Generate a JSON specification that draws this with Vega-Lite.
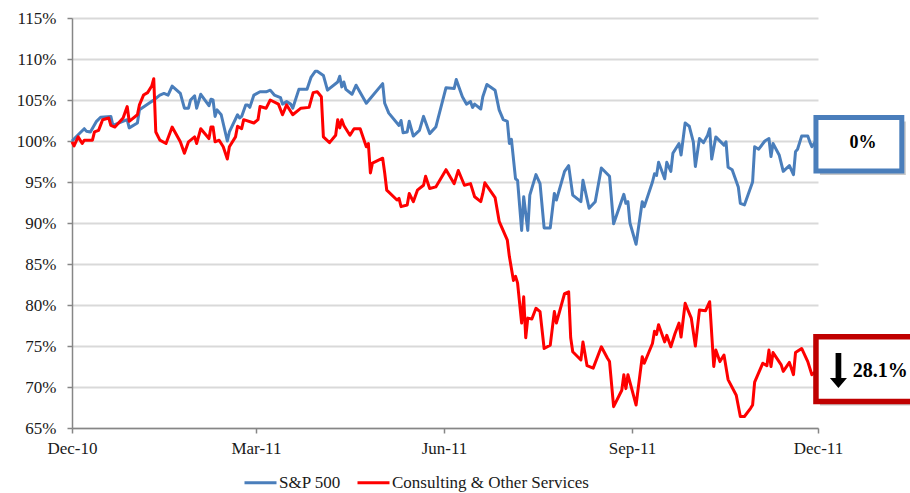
{
  "$schema": "https://vega.github.io/schema/vega-lite/v6.json",
  "width": 746,
  "height": 410,
  "autosize": {"type": "none"},
  "padding": {"left": 72, "top": 18, "right": 92, "bottom": 65},
  "background": "white",
  "config": {"view": {"stroke": null}, "font": "Liberation Serif"},
  "data": {
    "format": {"parse": {"date": "date:'%Y-%m-%d'"}},
    "values": [
      {"date":"2010-12-01","series":"S&P 500","value":100.0},
      {"date":"2010-12-05","series":"S&P 500","value":101.0},
      {"date":"2010-12-07","series":"S&P 500","value":101.5},
      {"date":"2010-12-08","series":"S&P 500","value":101.2},
      {"date":"2010-12-10","series":"S&P 500","value":101.1},
      {"date":"2010-12-13","series":"S&P 500","value":102.4},
      {"date":"2010-12-15","series":"S&P 500","value":102.9},
      {"date":"2010-12-20","series":"S&P 500","value":103.0},
      {"date":"2010-12-21","series":"S&P 500","value":101.9},
      {"date":"2010-12-28","series":"S&P 500","value":102.6},
      {"date":"2010-12-29","series":"S&P 500","value":101.6},
      {"date":"2011-01-02","series":"S&P 500","value":102.2},
      {"date":"2011-01-03","series":"S&P 500","value":103.8},
      {"date":"2011-01-10","series":"S&P 500","value":105.0},
      {"date":"2011-01-13","series":"S&P 500","value":105.6},
      {"date":"2011-01-15","series":"S&P 500","value":105.8},
      {"date":"2011-01-17","series":"S&P 500","value":105.6},
      {"date":"2011-01-19","series":"S&P 500","value":106.7},
      {"date":"2011-01-23","series":"S&P 500","value":105.8},
      {"date":"2011-01-25","series":"S&P 500","value":104.0},
      {"date":"2011-01-27","series":"S&P 500","value":104.0},
      {"date":"2011-01-28","series":"S&P 500","value":105.0},
      {"date":"2011-01-30","series":"S&P 500","value":105.5},
      {"date":"2011-01-31","series":"S&P 500","value":104.0},
      {"date":"2011-02-02","series":"S&P 500","value":105.7},
      {"date":"2011-02-06","series":"S&P 500","value":104.3},
      {"date":"2011-02-07","series":"S&P 500","value":105.1},
      {"date":"2011-02-08","series":"S&P 500","value":105.0},
      {"date":"2011-02-09","series":"S&P 500","value":103.0},
      {"date":"2011-02-10","series":"S&P 500","value":103.8},
      {"date":"2011-02-12","series":"S&P 500","value":103.2},
      {"date":"2011-02-15","series":"S&P 500","value":100.0},
      {"date":"2011-02-16","series":"S&P 500","value":101.1},
      {"date":"2011-02-20","series":"S&P 500","value":103.2},
      {"date":"2011-02-21","series":"S&P 500","value":102.8},
      {"date":"2011-02-22","series":"S&P 500","value":103.0},
      {"date":"2011-02-24","series":"S&P 500","value":104.4},
      {"date":"2011-02-25","series":"S&P 500","value":104.4},
      {"date":"2011-02-26","series":"S&P 500","value":104.1},
      {"date":"2011-02-28","series":"S&P 500","value":105.6},
      {"date":"2011-03-03","series":"S&P 500","value":106.0},
      {"date":"2011-03-06","series":"S&P 500","value":106.0},
      {"date":"2011-03-08","series":"S&P 500","value":106.2},
      {"date":"2011-03-10","series":"S&P 500","value":105.6},
      {"date":"2011-03-13","series":"S&P 500","value":105.3},
      {"date":"2011-03-14","series":"S&P 500","value":104.5},
      {"date":"2011-03-16","series":"S&P 500","value":104.8},
      {"date":"2011-03-18","series":"S&P 500","value":104.5},
      {"date":"2011-03-19","series":"S&P 500","value":104.0},
      {"date":"2011-03-22","series":"S&P 500","value":106.3},
      {"date":"2011-03-26","series":"S&P 500","value":106.3},
      {"date":"2011-03-28","series":"S&P 500","value":107.8},
      {"date":"2011-03-30","series":"S&P 500","value":108.5},
      {"date":"2011-03-31","series":"S&P 500","value":108.5},
      {"date":"2011-04-03","series":"S&P 500","value":108.0},
      {"date":"2011-04-05","series":"S&P 500","value":106.2},
      {"date":"2011-04-10","series":"S&P 500","value":107.2},
      {"date":"2011-04-11","series":"S&P 500","value":107.9},
      {"date":"2011-04-12","series":"S&P 500","value":106.6},
      {"date":"2011-04-13","series":"S&P 500","value":107.2},
      {"date":"2011-04-14","series":"S&P 500","value":106.3},
      {"date":"2011-04-17","series":"S&P 500","value":105.7},
      {"date":"2011-04-19","series":"S&P 500","value":106.8},
      {"date":"2011-04-24","series":"S&P 500","value":104.6},
      {"date":"2011-05-02","series":"S&P 500","value":107.0},
      {"date":"2011-05-03","series":"S&P 500","value":104.6},
      {"date":"2011-05-05","series":"S&P 500","value":103.4},
      {"date":"2011-05-10","series":"S&P 500","value":101.9},
      {"date":"2011-05-11","series":"S&P 500","value":102.5},
      {"date":"2011-05-12","series":"S&P 500","value":101.0},
      {"date":"2011-05-14","series":"S&P 500","value":101.1},
      {"date":"2011-05-15","series":"S&P 500","value":102.4},
      {"date":"2011-05-17","series":"S&P 500","value":100.6},
      {"date":"2011-05-20","series":"S&P 500","value":101.3},
      {"date":"2011-05-22","series":"S&P 500","value":103.0},
      {"date":"2011-05-25","series":"S&P 500","value":100.9},
      {"date":"2011-05-28","series":"S&P 500","value":101.7},
      {"date":"2011-06-02","series":"S&P 500","value":106.5},
      {"date":"2011-06-06","series":"S&P 500","value":106.4},
      {"date":"2011-06-07","series":"S&P 500","value":107.5},
      {"date":"2011-06-10","series":"S&P 500","value":105.4},
      {"date":"2011-06-12","series":"S&P 500","value":104.5},
      {"date":"2011-06-14","series":"S&P 500","value":104.8},
      {"date":"2011-06-15","series":"S&P 500","value":104.1},
      {"date":"2011-06-16","series":"S&P 500","value":104.5},
      {"date":"2011-06-19","series":"S&P 500","value":103.9},
      {"date":"2011-06-20","series":"S&P 500","value":105.4},
      {"date":"2011-06-22","series":"S&P 500","value":106.9},
      {"date":"2011-06-26","series":"S&P 500","value":106.2},
      {"date":"2011-06-28","series":"S&P 500","value":103.8},
      {"date":"2011-06-30","series":"S&P 500","value":102.6},
      {"date":"2011-07-02","series":"S&P 500","value":102.4},
      {"date":"2011-07-03","series":"S&P 500","value":99.7},
      {"date":"2011-07-04","series":"S&P 500","value":100.2},
      {"date":"2011-07-06","series":"S&P 500","value":95.4},
      {"date":"2011-07-07","series":"S&P 500","value":95.2},
      {"date":"2011-07-09","series":"S&P 500","value":89.1},
      {"date":"2011-07-10","series":"S&P 500","value":93.2},
      {"date":"2011-07-12","series":"S&P 500","value":89.1},
      {"date":"2011-07-13","series":"S&P 500","value":93.4},
      {"date":"2011-07-16","series":"S&P 500","value":95.9},
      {"date":"2011-07-18","series":"S&P 500","value":94.8},
      {"date":"2011-07-20","series":"S&P 500","value":89.4},
      {"date":"2011-07-23","series":"S&P 500","value":89.4},
      {"date":"2011-07-25","series":"S&P 500","value":93.6},
      {"date":"2011-07-26","series":"S&P 500","value":92.8},
      {"date":"2011-07-30","series":"S&P 500","value":96.3},
      {"date":"2011-08-01","series":"S&P 500","value":97.0},
      {"date":"2011-08-03","series":"S&P 500","value":93.4},
      {"date":"2011-08-07","series":"S&P 500","value":92.6},
      {"date":"2011-08-08","series":"S&P 500","value":95.2},
      {"date":"2011-08-11","series":"S&P 500","value":91.8},
      {"date":"2011-08-14","series":"S&P 500","value":92.6},
      {"date":"2011-08-17","series":"S&P 500","value":96.7},
      {"date":"2011-08-21","series":"S&P 500","value":95.7},
      {"date":"2011-08-23","series":"S&P 500","value":89.9},
      {"date":"2011-08-28","series":"S&P 500","value":93.5},
      {"date":"2011-08-29","series":"S&P 500","value":92.4},
      {"date":"2011-08-30","series":"S&P 500","value":92.6},
      {"date":"2011-08-31","series":"S&P 500","value":90.0},
      {"date":"2011-09-03","series":"S&P 500","value":87.4},
      {"date":"2011-09-06","series":"S&P 500","value":92.6},
      {"date":"2011-09-07","series":"S&P 500","value":92.0},
      {"date":"2011-09-11","series":"S&P 500","value":95.0},
      {"date":"2011-09-12","series":"S&P 500","value":96.0},
      {"date":"2011-09-13","series":"S&P 500","value":95.8},
      {"date":"2011-09-14","series":"S&P 500","value":97.4},
      {"date":"2011-09-17","series":"S&P 500","value":95.4},
      {"date":"2011-09-18","series":"S&P 500","value":97.4},
      {"date":"2011-09-20","series":"S&P 500","value":96.3},
      {"date":"2011-09-21","series":"S&P 500","value":98.5},
      {"date":"2011-09-24","series":"S&P 500","value":99.7},
      {"date":"2011-09-25","series":"S&P 500","value":98.3},
      {"date":"2011-09-27","series":"S&P 500","value":102.2},
      {"date":"2011-09-29","series":"S&P 500","value":101.8},
      {"date":"2011-10-01","series":"S&P 500","value":99.9},
      {"date":"2011-10-02","series":"S&P 500","value":96.9},
      {"date":"2011-10-04","series":"S&P 500","value":100.3},
      {"date":"2011-10-06","series":"S&P 500","value":99.8},
      {"date":"2011-10-08","series":"S&P 500","value":100.7},
      {"date":"2011-10-09","series":"S&P 500","value":101.5},
      {"date":"2011-10-10","series":"S&P 500","value":97.8},
      {"date":"2011-10-12","series":"S&P 500","value":100.5},
      {"date":"2011-10-16","series":"S&P 500","value":99.5},
      {"date":"2011-10-17","series":"S&P 500","value":99.9},
      {"date":"2011-10-18","series":"S&P 500","value":96.8},
      {"date":"2011-10-20","series":"S&P 500","value":96.5},
      {"date":"2011-10-23","series":"S&P 500","value":94.4},
      {"date":"2011-10-24","series":"S&P 500","value":92.4},
      {"date":"2011-10-26","series":"S&P 500","value":92.2},
      {"date":"2011-10-30","series":"S&P 500","value":95.0},
      {"date":"2011-10-31","series":"S&P 500","value":99.3},
      {"date":"2011-11-02","series":"S&P 500","value":99.0},
      {"date":"2011-11-05","series":"S&P 500","value":100.0},
      {"date":"2011-11-07","series":"S&P 500","value":100.3},
      {"date":"2011-11-08","series":"S&P 500","value":98.1},
      {"date":"2011-11-09","series":"S&P 500","value":99.7},
      {"date":"2011-11-12","series":"S&P 500","value":98.3},
      {"date":"2011-11-14","series":"S&P 500","value":96.3},
      {"date":"2011-11-17","series":"S&P 500","value":97.0},
      {"date":"2011-11-19","series":"S&P 500","value":95.9},
      {"date":"2011-11-20","series":"S&P 500","value":98.7},
      {"date":"2011-11-21","series":"S&P 500","value":99.0},
      {"date":"2011-11-23","series":"S&P 500","value":100.6},
      {"date":"2011-11-26","series":"S&P 500","value":100.6},
      {"date":"2011-11-27","series":"S&P 500","value":99.9},
      {"date":"2011-11-28","series":"S&P 500","value":99.3},
      {"date":"2011-11-30","series":"S&P 500","value":100.0},
      {"date":"2010-12-01","series":"Consulting & Other Services","value":99.9},
      {"date":"2010-12-02","series":"Consulting & Other Services","value":99.4},
      {"date":"2010-12-04","series":"Consulting & Other Services","value":100.5},
      {"date":"2010-12-06","series":"Consulting & Other Services","value":99.7},
      {"date":"2010-12-07","series":"Consulting & Other Services","value":100.1},
      {"date":"2010-12-11","series":"Consulting & Other Services","value":100.1},
      {"date":"2010-12-12","series":"Consulting & Other Services","value":101.1},
      {"date":"2010-12-14","series":"Consulting & Other Services","value":101.3},
      {"date":"2010-12-16","series":"Consulting & Other Services","value":102.6},
      {"date":"2010-12-19","series":"Consulting & Other Services","value":102.8},
      {"date":"2010-12-20","series":"Consulting & Other Services","value":101.9},
      {"date":"2010-12-22","series":"Consulting & Other Services","value":101.7},
      {"date":"2010-12-26","series":"Consulting & Other Services","value":102.8},
      {"date":"2010-12-28","series":"Consulting & Other Services","value":104.2},
      {"date":"2010-12-29","series":"Consulting & Other Services","value":102.4},
      {"date":"2011-01-02","series":"Consulting & Other Services","value":103.2},
      {"date":"2011-01-03","series":"Consulting & Other Services","value":104.4},
      {"date":"2011-01-05","series":"Consulting & Other Services","value":105.6},
      {"date":"2011-01-07","series":"Consulting & Other Services","value":105.9},
      {"date":"2011-01-09","series":"Consulting & Other Services","value":106.7},
      {"date":"2011-01-10","series":"Consulting & Other Services","value":107.6},
      {"date":"2011-01-11","series":"Consulting & Other Services","value":101.1},
      {"date":"2011-01-13","series":"Consulting & Other Services","value":100.1},
      {"date":"2011-01-16","series":"Consulting & Other Services","value":99.7},
      {"date":"2011-01-19","series":"Consulting & Other Services","value":101.7},
      {"date":"2011-01-23","series":"Consulting & Other Services","value":99.9},
      {"date":"2011-01-25","series":"Consulting & Other Services","value":98.5},
      {"date":"2011-01-27","series":"Consulting & Other Services","value":99.9},
      {"date":"2011-01-30","series":"Consulting & Other Services","value":100.5},
      {"date":"2011-01-31","series":"Consulting & Other Services","value":99.7},
      {"date":"2011-02-02","series":"Consulting & Other Services","value":101.5},
      {"date":"2011-02-06","series":"Consulting & Other Services","value":100.3},
      {"date":"2011-02-07","series":"Consulting & Other Services","value":101.7},
      {"date":"2011-02-08","series":"Consulting & Other Services","value":101.7},
      {"date":"2011-02-09","series":"Consulting & Other Services","value":99.9},
      {"date":"2011-02-11","series":"Consulting & Other Services","value":100.1},
      {"date":"2011-02-13","series":"Consulting & Other Services","value":99.3},
      {"date":"2011-02-15","series":"Consulting & Other Services","value":97.8},
      {"date":"2011-02-16","series":"Consulting & Other Services","value":99.3},
      {"date":"2011-02-19","series":"Consulting & Other Services","value":100.5},
      {"date":"2011-02-20","series":"Consulting & Other Services","value":101.8},
      {"date":"2011-02-22","series":"Consulting & Other Services","value":101.5},
      {"date":"2011-02-23","series":"Consulting & Other Services","value":102.6},
      {"date":"2011-02-28","series":"Consulting & Other Services","value":102.2},
      {"date":"2011-03-02","series":"Consulting & Other Services","value":102.6},
      {"date":"2011-03-03","series":"Consulting & Other Services","value":104.2},
      {"date":"2011-03-06","series":"Consulting & Other Services","value":104.0},
      {"date":"2011-03-08","series":"Consulting & Other Services","value":105.0},
      {"date":"2011-03-12","series":"Consulting & Other Services","value":104.5},
      {"date":"2011-03-14","series":"Consulting & Other Services","value":103.2},
      {"date":"2011-03-16","series":"Consulting & Other Services","value":104.4},
      {"date":"2011-03-19","series":"Consulting & Other Services","value":103.2},
      {"date":"2011-03-23","series":"Consulting & Other Services","value":104.0},
      {"date":"2011-03-27","series":"Consulting & Other Services","value":104.1},
      {"date":"2011-03-29","series":"Consulting & Other Services","value":105.9},
      {"date":"2011-03-31","series":"Consulting & Other Services","value":106.0},
      {"date":"2011-04-02","series":"Consulting & Other Services","value":105.4},
      {"date":"2011-04-03","series":"Consulting & Other Services","value":100.5},
      {"date":"2011-04-06","series":"Consulting & Other Services","value":99.8},
      {"date":"2011-04-09","series":"Consulting & Other Services","value":100.7},
      {"date":"2011-04-10","series":"Consulting & Other Services","value":102.6},
      {"date":"2011-04-11","series":"Consulting & Other Services","value":101.6},
      {"date":"2011-04-12","series":"Consulting & Other Services","value":102.6},
      {"date":"2011-04-13","series":"Consulting & Other Services","value":101.9},
      {"date":"2011-04-16","series":"Consulting & Other Services","value":100.7},
      {"date":"2011-04-18","series":"Consulting & Other Services","value":101.5},
      {"date":"2011-04-21","series":"Consulting & Other Services","value":101.5},
      {"date":"2011-04-24","series":"Consulting & Other Services","value":99.3},
      {"date":"2011-04-25","series":"Consulting & Other Services","value":99.7},
      {"date":"2011-04-26","series":"Consulting & Other Services","value":96.1},
      {"date":"2011-04-27","series":"Consulting & Other Services","value":97.3},
      {"date":"2011-05-02","series":"Consulting & Other Services","value":97.9},
      {"date":"2011-05-03","series":"Consulting & Other Services","value":96.1},
      {"date":"2011-05-04","series":"Consulting & Other Services","value":94.0},
      {"date":"2011-05-09","series":"Consulting & Other Services","value":92.8},
      {"date":"2011-05-10","series":"Consulting & Other Services","value":93.0},
      {"date":"2011-05-11","series":"Consulting & Other Services","value":92.0},
      {"date":"2011-05-14","series":"Consulting & Other Services","value":92.2},
      {"date":"2011-05-15","series":"Consulting & Other Services","value":93.6},
      {"date":"2011-05-17","series":"Consulting & Other Services","value":92.6},
      {"date":"2011-05-19","series":"Consulting & Other Services","value":94.0},
      {"date":"2011-05-22","series":"Consulting & Other Services","value":94.6},
      {"date":"2011-05-23","series":"Consulting & Other Services","value":95.7},
      {"date":"2011-05-25","series":"Consulting & Other Services","value":94.2},
      {"date":"2011-05-28","series":"Consulting & Other Services","value":94.4},
      {"date":"2011-06-02","series":"Consulting & Other Services","value":96.5},
      {"date":"2011-06-06","series":"Consulting & Other Services","value":94.8},
      {"date":"2011-06-08","series":"Consulting & Other Services","value":96.4},
      {"date":"2011-06-11","series":"Consulting & Other Services","value":94.6},
      {"date":"2011-06-14","series":"Consulting & Other Services","value":94.8},
      {"date":"2011-06-16","series":"Consulting & Other Services","value":93.2},
      {"date":"2011-06-19","series":"Consulting & Other Services","value":92.6},
      {"date":"2011-06-20","series":"Consulting & Other Services","value":93.6},
      {"date":"2011-06-21","series":"Consulting & Other Services","value":94.9},
      {"date":"2011-06-26","series":"Consulting & Other Services","value":93.1},
      {"date":"2011-06-28","series":"Consulting & Other Services","value":90.2},
      {"date":"2011-07-02","series":"Consulting & Other Services","value":87.9},
      {"date":"2011-07-03","series":"Consulting & Other Services","value":85.9},
      {"date":"2011-07-05","series":"Consulting & Other Services","value":83.0},
      {"date":"2011-07-06","series":"Consulting & Other Services","value":83.5},
      {"date":"2011-07-07","series":"Consulting & Other Services","value":82.7},
      {"date":"2011-07-09","series":"Consulting & Other Services","value":77.8},
      {"date":"2011-07-10","series":"Consulting & Other Services","value":81.0},
      {"date":"2011-07-11","series":"Consulting & Other Services","value":76.0},
      {"date":"2011-07-12","series":"Consulting & Other Services","value":78.4},
      {"date":"2011-07-14","series":"Consulting & Other Services","value":78.3},
      {"date":"2011-07-16","series":"Consulting & Other Services","value":79.6},
      {"date":"2011-07-18","series":"Consulting & Other Services","value":79.2},
      {"date":"2011-07-20","series":"Consulting & Other Services","value":74.7},
      {"date":"2011-07-23","series":"Consulting & Other Services","value":75.1},
      {"date":"2011-07-25","series":"Consulting & Other Services","value":79.2},
      {"date":"2011-07-26","series":"Consulting & Other Services","value":77.8},
      {"date":"2011-07-30","series":"Consulting & Other Services","value":81.4},
      {"date":"2011-08-01","series":"Consulting & Other Services","value":81.6},
      {"date":"2011-08-02","series":"Consulting & Other Services","value":76.0},
      {"date":"2011-08-03","series":"Consulting & Other Services","value":74.3},
      {"date":"2011-08-07","series":"Consulting & Other Services","value":73.3},
      {"date":"2011-08-08","series":"Consulting & Other Services","value":75.5},
      {"date":"2011-08-10","series":"Consulting & Other Services","value":72.6},
      {"date":"2011-08-13","series":"Consulting & Other Services","value":72.3},
      {"date":"2011-08-17","series":"Consulting & Other Services","value":74.9},
      {"date":"2011-08-20","series":"Consulting & Other Services","value":73.5},
      {"date":"2011-08-21","series":"Consulting & Other Services","value":73.1},
      {"date":"2011-08-23","series":"Consulting & Other Services","value":67.6},
      {"date":"2011-08-27","series":"Consulting & Other Services","value":69.6},
      {"date":"2011-08-28","series":"Consulting & Other Services","value":71.5},
      {"date":"2011-08-29","series":"Consulting & Other Services","value":69.8},
      {"date":"2011-08-30","series":"Consulting & Other Services","value":71.5},
      {"date":"2011-09-03","series":"Consulting & Other Services","value":67.8},
      {"date":"2011-09-06","series":"Consulting & Other Services","value":73.7},
      {"date":"2011-09-07","series":"Consulting & Other Services","value":72.9},
      {"date":"2011-09-11","series":"Consulting & Other Services","value":75.3},
      {"date":"2011-09-12","series":"Consulting & Other Services","value":76.8},
      {"date":"2011-09-13","series":"Consulting & Other Services","value":76.4},
      {"date":"2011-09-14","series":"Consulting & Other Services","value":77.6},
      {"date":"2011-09-17","series":"Consulting & Other Services","value":75.5},
      {"date":"2011-09-18","series":"Consulting & Other Services","value":76.3},
      {"date":"2011-09-20","series":"Consulting & Other Services","value":74.9},
      {"date":"2011-09-22","series":"Consulting & Other Services","value":76.5},
      {"date":"2011-09-24","series":"Consulting & Other Services","value":77.8},
      {"date":"2011-09-25","series":"Consulting & Other Services","value":76.1},
      {"date":"2011-09-27","series":"Consulting & Other Services","value":80.2},
      {"date":"2011-09-30","series":"Consulting & Other Services","value":78.4},
      {"date":"2011-10-02","series":"Consulting & Other Services","value":75.0},
      {"date":"2011-10-04","series":"Consulting & Other Services","value":79.4},
      {"date":"2011-10-07","series":"Consulting & Other Services","value":79.3},
      {"date":"2011-10-09","series":"Consulting & Other Services","value":80.4},
      {"date":"2011-10-11","series":"Consulting & Other Services","value":72.5},
      {"date":"2011-10-12","series":"Consulting & Other Services","value":74.5},
      {"date":"2011-10-14","series":"Consulting & Other Services","value":73.1},
      {"date":"2011-10-16","series":"Consulting & Other Services","value":73.9},
      {"date":"2011-10-18","series":"Consulting & Other Services","value":70.9},
      {"date":"2011-10-22","series":"Consulting & Other Services","value":69.0},
      {"date":"2011-10-24","series":"Consulting & Other Services","value":66.4},
      {"date":"2011-10-26","series":"Consulting & Other Services","value":66.4},
      {"date":"2011-10-29","series":"Consulting & Other Services","value":67.4},
      {"date":"2011-10-30","series":"Consulting & Other Services","value":67.8},
      {"date":"2011-10-31","series":"Consulting & Other Services","value":70.6},
      {"date":"2011-11-04","series":"Consulting & Other Services","value":72.9},
      {"date":"2011-11-06","series":"Consulting & Other Services","value":72.6},
      {"date":"2011-11-07","series":"Consulting & Other Services","value":74.5},
      {"date":"2011-11-08","series":"Consulting & Other Services","value":72.5},
      {"date":"2011-11-09","series":"Consulting & Other Services","value":74.2},
      {"date":"2011-11-13","series":"Consulting & Other Services","value":72.7},
      {"date":"2011-11-14","series":"Consulting & Other Services","value":71.9},
      {"date":"2011-11-17","series":"Consulting & Other Services","value":73.0},
      {"date":"2011-11-19","series":"Consulting & Other Services","value":71.5},
      {"date":"2011-11-20","series":"Consulting & Other Services","value":74.2},
      {"date":"2011-11-23","series":"Consulting & Other Services","value":74.7},
      {"date":"2011-11-26","series":"Consulting & Other Services","value":73.1},
      {"date":"2011-11-28","series":"Consulting & Other Services","value":71.5},
      {"date":"2011-11-30","series":"Consulting & Other Services","value":71.9}
    ]
  },
  "layer": [
    {
      "mark": {"type": "line", "strokeWidth": 3, "strokeJoin": "round"},
      "encoding": {
        "x": {
          "field": "date",
          "type": "temporal",
          "scale": {"domain": [{"year": 2010, "month": 12, "date": 1}, {"year": 2011, "month": 12, "date": 1}]},
          "axis": {
            "title": null,
            "values": [
              {"year": 2010, "month": 12, "date": 1},
              {"year": 2011, "month": 3, "date": 1},
              {"year": 2011, "month": 6, "date": 1},
              {"year": 2011, "month": 9, "date": 1},
              {"year": 2011, "month": 12, "date": 1}
            ],
            "format": "%b-%y",
            "grid": false,
            "domainColor": "#868686",
            "domainWidth": 1.5,
            "tickColor": "#868686",
            "tickWidth": 1.5,
            "tickSize": 5,
            "labelFont": "Liberation Serif",
            "labelFontSize": 17,
            "labelColor": "#1a1a1a",
            "labelPadding": 7,
            "labelFlush": false,
            "labelOverlap": false
          }
        },
        "y": {
          "field": "value",
          "type": "quantitative",
          "scale": {"domain": [65, 115], "nice": false, "zero": false},
          "axis": {
            "title": null,
            "values": [65, 70, 75, 80, 85, 90, 95, 100, 105, 110, 115],
            "labelExpr": "datum.value + '%'",
            "grid": true,
            "gridColor": "#d9d9d9",
            "gridWidth": 2,
            "domainColor": "#868686",
            "domainWidth": 1.5,
            "tickColor": "#868686",
            "tickWidth": 1.5,
            "tickSize": 5,
            "labelFont": "Liberation Serif",
            "labelFontSize": 17,
            "labelColor": "#1a1a1a",
            "labelPadding": 11
          }
        },
        "color": {
          "field": "series",
          "type": "nominal",
          "scale": {"domain": ["S&P 500", "Consulting & Other Services"], "range": ["#4a7ebb", "#ff0000"]},
          "legend": {
            "title": null,
            "orient": "none",
            "legendX": 171,
            "legendY": 447,
            "direction": "horizontal",
            "symbolType": "stroke",
            "symbolSize": 1024,
            "symbolStrokeWidth": 3,
            "labelFont": "Liberation Serif",
            "labelFontSize": 17,
            "labelColor": "#1a1a1a",
            "labelOffset": 1,
            "labelLimit": 400,
            "columnPadding": 10,
            "padding": 0
          }
        }
      }
    },
    {
      "data": {"values": [{"label": "0%"}]},
      "mark": {"type": "rect", "fill": "#000000", "opacity": 0.22, "xOffset": 4, "x2Offset": 4, "yOffset": 4, "y2Offset": 4},
      "encoding": {
        "x": {"datum": {"year": 2011, "month": 11, "date": 30}, "type": "temporal"},
        "x2": {"datum": {"year": 2012, "month": 1, "date": 11}},
        "y": {"datum": 102.87, "type": "quantitative"},
        "y2": {"datum": 96.34}
      }
    },
    {
      "data": {"values": [{"label": "0%"}]},
      "mark": {"type": "rect", "fill": "#ffffff", "stroke": "#4a7ebb", "strokeWidth": 5},
      "encoding": {
        "x": {"datum": {"year": 2011, "month": 11, "date": 30}, "type": "temporal"},
        "x2": {"datum": {"year": 2012, "month": 1, "date": 11}},
        "y": {"datum": 102.87, "type": "quantitative"},
        "y2": {"datum": 96.34}
      }
    },
    {
      "data": {"values": [{"label": "0%"}]},
      "mark": {"type": "text", "font": "Liberation Serif", "fontSize": 18, "fontWeight": "bold", "color": "#000000", "align": "center", "baseline": "middle"},
      "encoding": {
        "x": {"datum": {"year": 2011, "month": 12, "date": 23}, "type": "temporal"},
        "y": {"datum": 99.76, "type": "quantitative"},
        "text": {"field": "label"}
      }
    },
    {
      "data": {"values": [{"label": "28.1%"}]},
      "mark": {"type": "rect", "fill": "#000000", "opacity": 0.22, "xOffset": 4, "x2Offset": 4, "yOffset": 4, "y2Offset": 4},
      "encoding": {
        "x": {"datum": {"year": 2011, "month": 11, "date": 30}, "type": "temporal"},
        "x2": {"datum": {"year": 2012, "month": 2, "date": 5}},
        "y": {"datum": 76.13, "type": "quantitative"},
        "y2": {"datum": 68.23}
      }
    },
    {
      "data": {"values": [{"label": "28.1%"}]},
      "mark": {"type": "rect", "fill": "#ffffff", "stroke": "#c00000", "strokeWidth": 5.5},
      "encoding": {
        "x": {"datum": {"year": 2011, "month": 11, "date": 30}, "type": "temporal"},
        "x2": {"datum": {"year": 2012, "month": 2, "date": 5}},
        "y": {"datum": 76.13, "type": "quantitative"},
        "y2": {"datum": 68.23}
      }
    },
    {
      "data": {"values": [{"label": "down"}]},
      "mark": {"type": "point", "filled": true, "color": "#000000", "opacity": 1, "size": 1225, "shape": "M-0.163,-1L0.163,-1L0.163,0.43L0.486,0.43L0,1L-0.486,0.43L-0.163,0.43Z"},
      "encoding": {
        "x": {"datum": {"year": 2011, "month": 12, "date": 11}, "type": "temporal"},
        "y": {"datum": 72.01, "type": "quantitative"}
      }
    },
    {
      "data": {"values": [{"label": "28.1%"}]},
      "mark": {"type": "text", "font": "Liberation Serif", "fontSize": 20, "fontWeight": "bold", "color": "#000000", "align": "left", "baseline": "middle"},
      "encoding": {
        "x": {"datum": {"year": 2011, "month": 12, "date": 18}, "type": "temporal"},
        "y": {"datum": 72.0, "type": "quantitative"},
        "text": {"field": "label"}
      }
    }
  ]
}
